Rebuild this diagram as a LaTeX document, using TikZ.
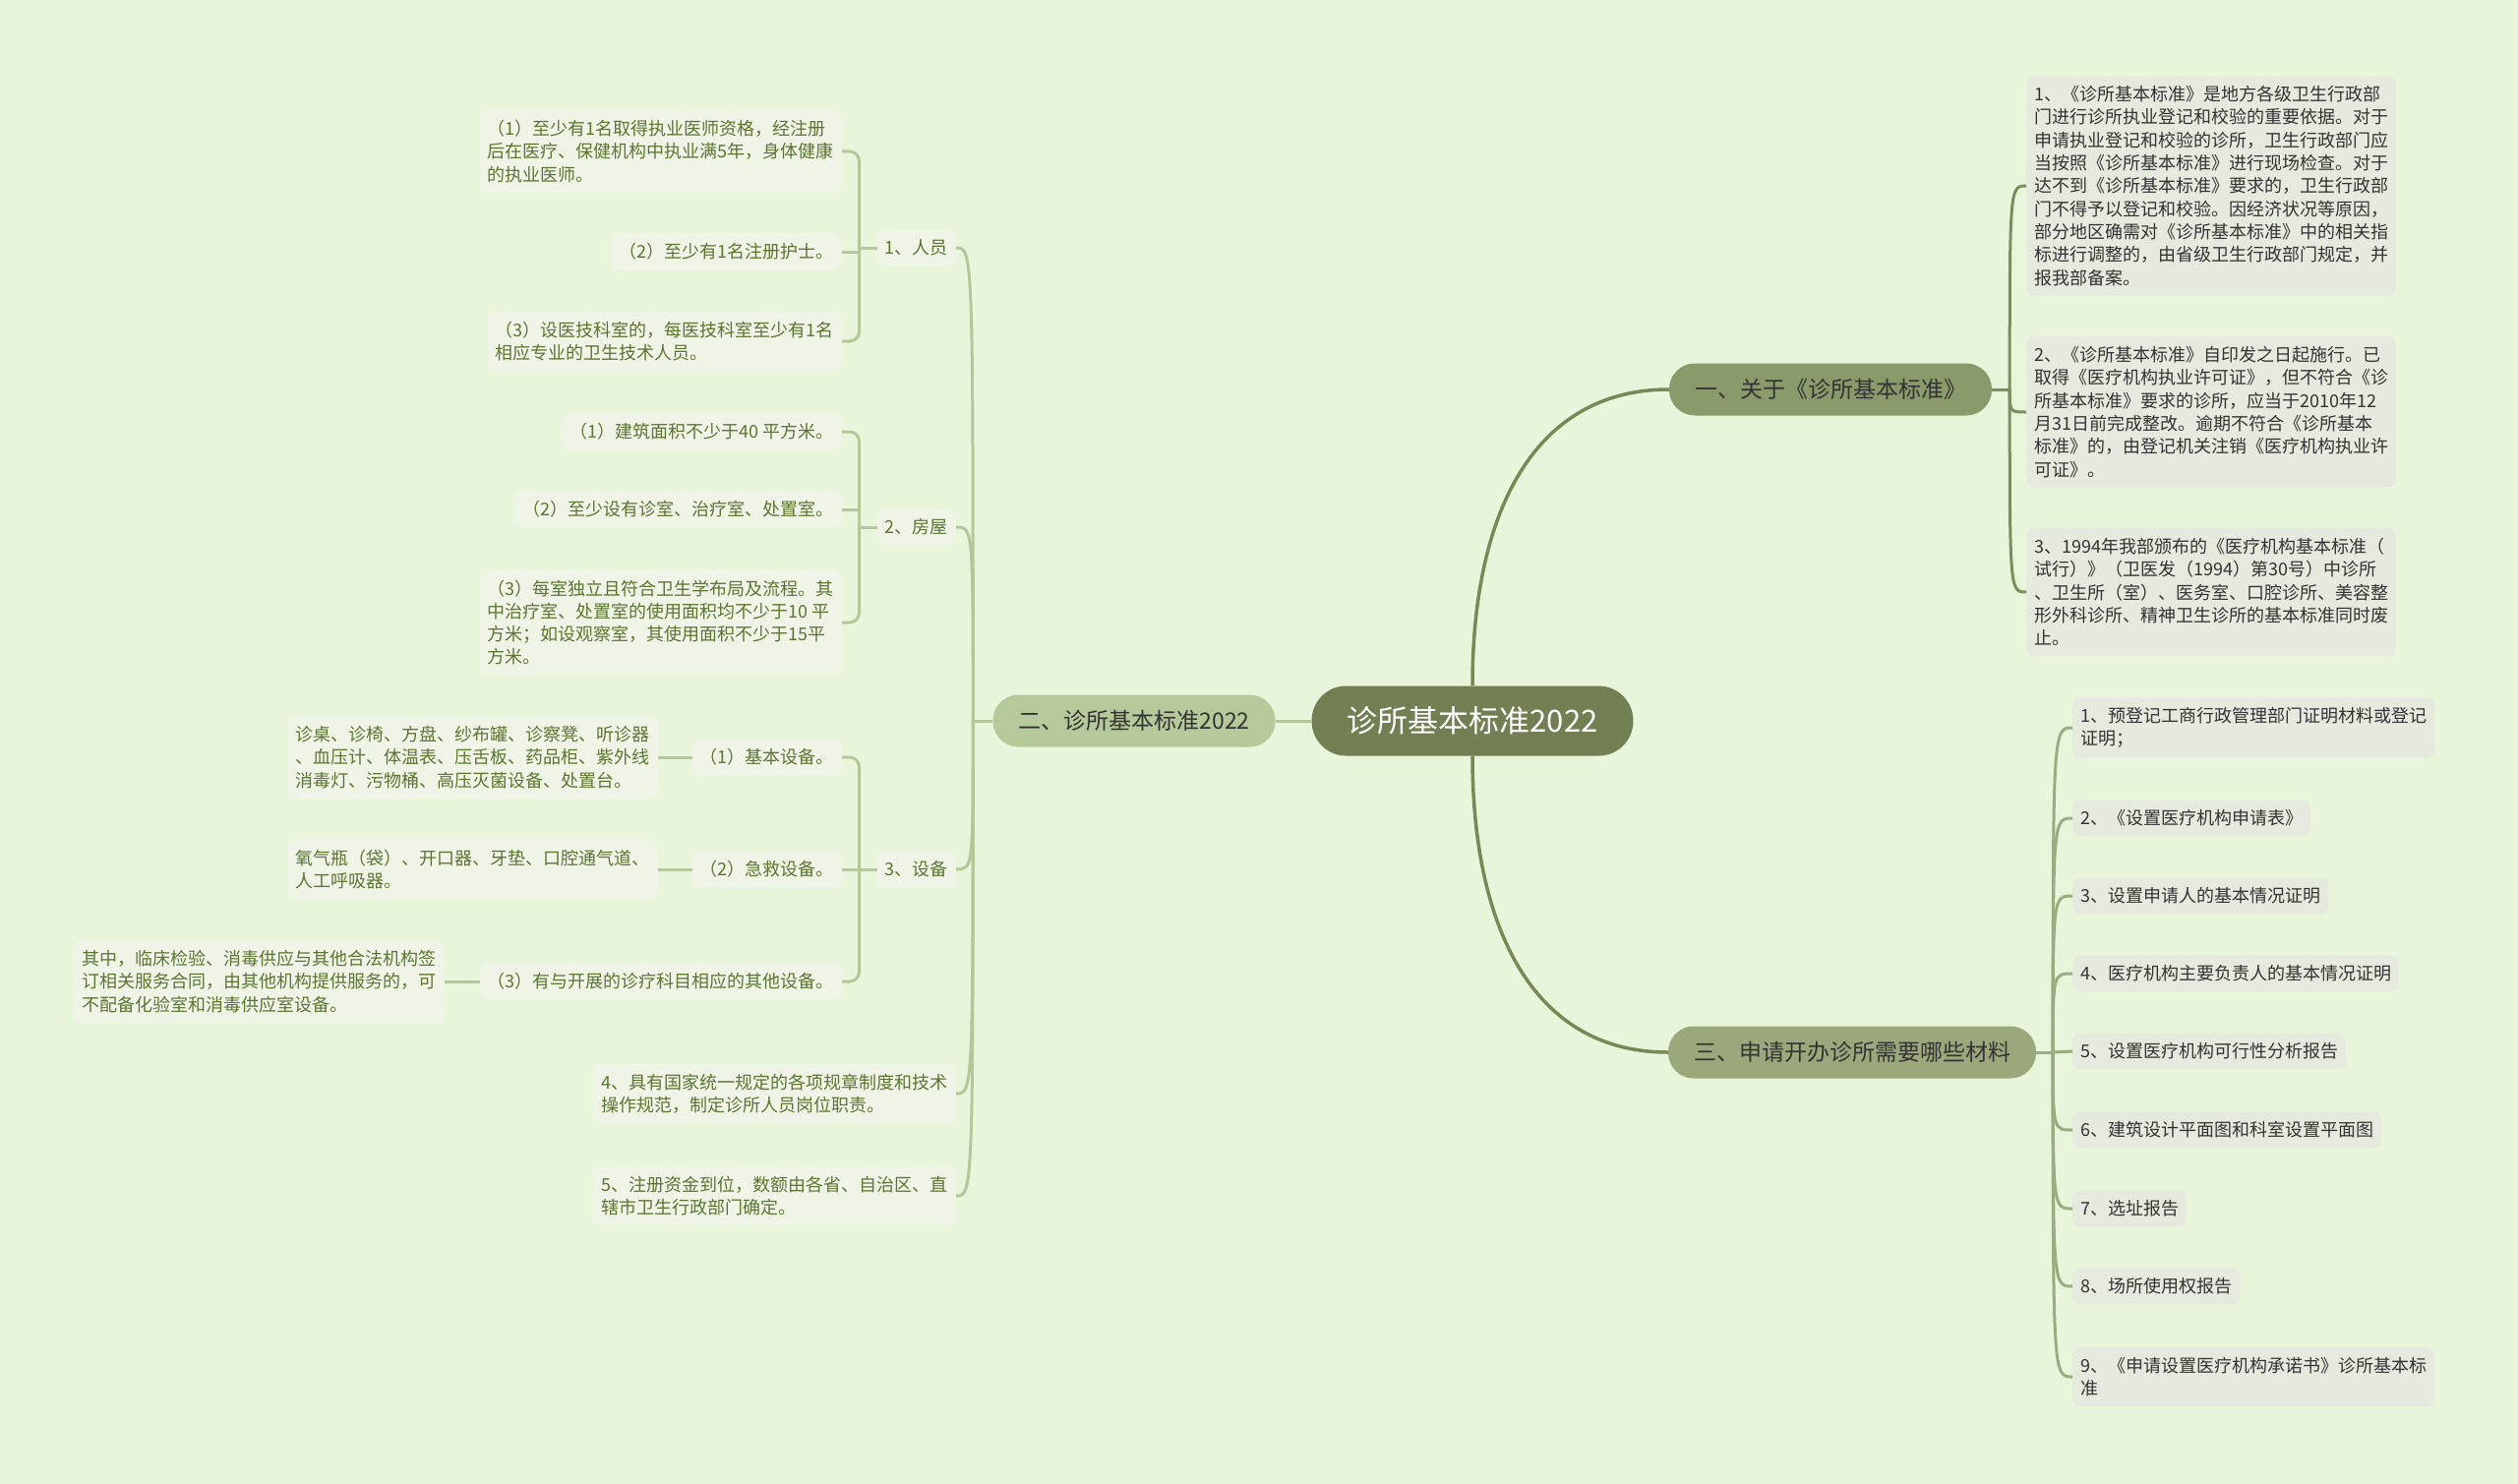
\documentclass[tikz,border=0pt]{standalone}
\usepackage{fontspec}
\setmainfont{Noto Sans CJK SC}
\usepackage{tikz}

\definecolor{bgcol}{HTML}{E8F5DB}
\definecolor{rootcol}{HTML}{717F52}
\definecolor{onecol}{HTML}{8A9A6A}
\definecolor{twocol}{HTML}{B6C99B}
\definecolor{threecol}{HTML}{9BA87C}
\definecolor{lboxcol}{HTML}{EFF4E7}
\definecolor{rboxcol}{HTML}{E6E9DE}
\definecolor{ltextcol}{HTML}{5C7531}
\definecolor{dtextcol}{HTML}{333333}
\definecolor{rootlinecol}{HTML}{788857}
\definecolor{onelinecol}{HTML}{7D8D5C}
\definecolor{twolinecol}{HTML}{B4C799}
\definecolor{threelinecol}{HTML}{9DAB80}

\tikzset{
  rootnode/.style={rounded corners=35pt, fill=rootcol, text=white,
    minimum height=71pt, inner xsep=36pt, font=\fontsize{31}{36}\selectfont},
  mainnode/.style={rounded corners=26pt, text=dtextcol,
    minimum height=53pt, inner xsep=26pt, font=\fontsize{23}{28}\selectfont},
  leftbox/.style={anchor=east, rounded corners=8pt, fill=lboxcol, text=ltextcol,
    align=left, inner xsep=8pt, inner ysep=10pt, font=\fontsize{18}{23.3}\selectfont},
  rightbox/.style={anchor=west, rounded corners=8pt, fill=rboxcol, text=dtextcol,
    align=left, inner xsep=8pt, inner ysep=10pt, font=\fontsize{18}{23.3}\selectfont},
  rootlink/.style={draw=rootlinecol, line width=3.5pt},
  onelink/.style={draw=onelinecol, line width=3pt},
  twolink/.style={draw=twolinecol, line width=3pt},
  threelink/.style={draw=threelinecol, line width=3pt}
}

\begin{document}
\begin{tikzpicture}[x=1pt, y=-1pt]
  \useasboundingbox (0,0) rectangle (2560,1509);
  \fill [bgcol] (0,0) rectangle (2560,1509);

  \node (root) at (1497,733) [rootnode] {诊所基本标准2022};
  \node (one) at (1861,396) [mainnode, fill=onecol] {一、关于《诊所基本标准》};
  \node (two) at (1153,733) [mainnode, fill=twocol] {二、诊所基本标准2022};
  \node (three) at (1883,1070) [mainnode, fill=threecol] {三、申请开办诊所需要哪些材料};

  \draw [rootlink] (root.north) .. controls (1497,520) and (1560,396) .. (one.west);
  \draw [rootlink] (root.south) .. controls (1497,946) and (1560,1070) .. (three.west);
  \draw [twolink] (root.west) -- (two.east);

  % 一
  \node (std1) at (2060,189) [rightbox] {1、《诊所基本标准》是地方各级卫生行政部\\门进行诊所执业登记和校验的重要依据。对于\\申请执业登记和校验的诊所，卫生行政部门应\\当按照《诊所基本标准》进行现场检查。对于\\达不到《诊所基本标准》要求的，卫生行政部\\门不得予以登记和校验。因经济状况等原因，\\部分地区确需对《诊所基本标准》中的相关指\\标进行调整的，由省级卫生行政部门规定，并\\报我部备案。};
  \node (std2) at (2060,419) [rightbox] {2、《诊所基本标准》自印发之日起施行。已\\取得《医疗机构执业许可证》，但不符合《诊\\所基本标准》要求的诊所，应当于2010年12\\月31日前完成整改。逾期不符合《诊所基本\\标准》的，由登记机关注销《医疗机构执业许\\可证》。};
  \node (std3) at (2060,602) [rightbox] {3、1994年我部颁布的《医疗机构基本标准（\\试行）》（卫医发（1994）第30号）中诊所\\、卫生所（室）、医务室、口腔诊所、美容整\\形外科诊所、精神卫生诊所的基本标准同时废\\止。};

  \coordinate (j1) at ([xshift=18pt]one.east);
  \draw [onelink] (one.east) -- (j1);
  \draw [onelink] (j1) .. controls (j1 |- std1.west) .. (std1.west);
  \draw [onelink] (j1) .. controls (j1 |- std2.west) .. (std2.west);
  \draw [onelink] (j1) .. controls (j1 |- std3.west) .. (std3.west);

  % 三
  \node (mat1) at (2107,740) [rightbox] {1、预登记工商行政管理部门证明材料或登记\\证明；};
  \node (mat2) at (2107,832) [rightbox] {2、《设置医疗机构申请表》};
  \node (mat3) at (2107,911) [rightbox] {3、设置申请人的基本情况证明};
  \node (mat4) at (2107,990) [rightbox] {4、医疗机构主要负责人的基本情况证明};
  \node (mat5) at (2107,1069) [rightbox] {5、设置医疗机构可行性分析报告};
  \node (mat6) at (2107,1149) [rightbox] {6、建筑设计平面图和科室设置平面图};
  \node (mat7) at (2107,1229) [rightbox] {7、选址报告};
  \node (mat8) at (2107,1308) [rightbox] {8、场所使用权报告};
  \node (mat9) at (2107,1400) [rightbox] {9、《申请设置医疗机构承诺书》诊所基本标\\准};

  \coordinate (j3) at ([xshift=17pt]three.east);
  \draw [threelink] (three.east) -- (j3);
  \draw [threelink] (j3) .. controls (j3 |- mat1.west) .. (mat1.west);
  \draw [threelink] (j3) .. controls (j3 |- mat2.west) .. (mat2.west);
  \draw [threelink] (j3) .. controls (j3 |- mat3.west) .. (mat3.west);
  \draw [threelink] (j3) .. controls (j3 |- mat4.west) .. (mat4.west);
  \draw [threelink] (j3) -- (mat5.west);
  \draw [threelink] (j3) .. controls (j3 |- mat6.west) .. (mat6.west);
  \draw [threelink] (j3) .. controls (j3 |- mat7.west) .. (mat7.west);
  \draw [threelink] (j3) .. controls (j3 |- mat8.west) .. (mat8.west);
  \draw [threelink] (j3) .. controls (j3 |- mat9.west) .. (mat9.west);

  % 二
  \node (staff) at (972,252) [leftbox] {1、人员};
  \node (room) at (972,536) [leftbox] {2、房屋};
  \node (equip) at (972,884) [leftbox] {3、设备};
  \node (rules) at (972,1112) [leftbox] {4、具有国家统一规定的各项规章制度和技术\\操作规范，制定诊所人员岗位职责。};
  \node (funds) at (972,1216) [leftbox] {5、注册资金到位，数额由各省、自治区、直\\辖市卫生行政部门确定。};

  \coordinate (j2) at ([xshift=-20pt]two.west);
  \draw [twolink] (two.west) -- (j2);
  \draw [twolink] (j2) .. controls (j2 |- staff.east) .. (staff.east);
  \draw [twolink] (j2) .. controls (j2 |- room.east) .. (room.east);
  \draw [twolink] (j2) .. controls (j2 |- equip.east) .. (equip.east);
  \draw [twolink] (j2) .. controls (j2 |- rules.east) .. (rules.east);
  \draw [twolink] (j2) .. controls (j2 |- funds.east) .. (funds.east);

  \node (staff1) at (856,154) [leftbox] {（1）至少有1名取得执业医师资格，经注册\\后在医疗、保健机构中执业满5年，身体健康\\的执业医师。};
  \node (staff2) at (856,256) [leftbox] {（2）至少有1名注册护士。};
  \node (staff3) at (856,347) [leftbox] {（3）设医技科室的，每医技科室至少有1名\\相应专业的卫生技术人员。};
  \coordinate (k1) at ([xshift=-18pt]staff.west);
  \draw [twolink] (staff.west) -- (k1);
  \draw [twolink, rounded corners=10pt] (staff1.east) -| (k1) |- (staff3.east);
  \draw [twolink] (staff2.east) -- (staff2.east -| k1);

  \node (room1) at (856,439) [leftbox] {（1）建筑面积不少于40 平方米。};
  \node (room2) at (856,518) [leftbox] {（2）至少设有诊室、治疗室、处置室。};
  \node (room3) at (856,633) [leftbox] {（3）每室独立且符合卫生学布局及流程。其\\中治疗室、处置室的使用面积均不少于10 平\\方米；如设观察室，其使用面积不少于15平\\方米。};
  \coordinate (k2) at ([xshift=-18pt]room.west);
  \draw [twolink] (room.west) -- (k2);
  \draw [twolink, rounded corners=10pt] (room1.east) -| (k2) |- (room3.east);
  \draw [twolink] (room2.east) -- (room2.east -| k2);

  \node (equip1) at (856,770) [leftbox] {（1）基本设备。};
  \node (equip2) at (856,884) [leftbox] {（2）急救设备。};
  \node (equip3) at (856,998) [leftbox] {（3）有与开展的诊疗科目相应的其他设备。};
  \coordinate (k3) at ([xshift=-18pt]equip.west);
  \draw [twolink] (equip.west) -- (k3);
  \draw [twolink, rounded corners=10pt] (equip1.east) -| (k3) |- (equip3.east);
  \draw [twolink] (equip2.east) -- (equip2.east -| k3);

  \node (equipd1) at (669,770) [leftbox] {诊桌、诊椅、方盘、纱布罐、诊察凳、听诊器\\、血压计、体温表、压舌板、药品柜、紫外线\\消毒灯、污物桶、高压灭菌设备、处置台。};
  \node (equipd2) at (669,884) [leftbox] {氧气瓶（袋）、开口器、牙垫、口腔通气道、\\人工呼吸器。};
  \node (equipd3) at (452,998) [leftbox] {其中，临床检验、消毒供应与其他合法机构签\\订相关服务合同，由其他机构提供服务的，可\\不配备化验室和消毒供应室设备。};
  \draw [twolink] (equipd1.east) -- (equip1.west);
  \draw [twolink] (equipd2.east) -- (equip2.west);
  \draw [twolink] (equipd3.east) -- (equip3.west);
\end{tikzpicture}
\end{document}
